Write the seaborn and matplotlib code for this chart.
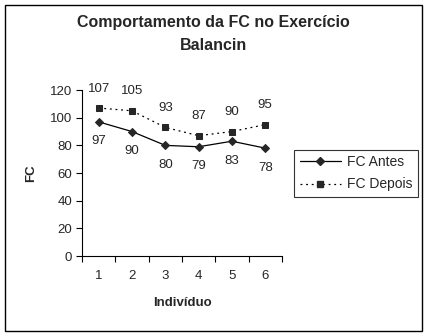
import matplotlib
matplotlib.use("Agg")
import matplotlib.pyplot as plt
from matplotlib.lines import Line2D
import seaborn as sns
import pandas as pd
import numpy as np

individuos = [1, 2, 3, 4, 5, 6]
fc_antes = [97, 90, 80, 79, 83, 78]
fc_depois = [107, 105, 93, 87, 90, 95]
y_ticks = [0, 20, 40, 60, 80, 100, 120]

sns.set_style("white")
plt.rcParams['font.family'] = ['Liberation Sans', 'DejaVu Sans']

df = pd.DataFrame({
    "Indivíduo": individuos * 2,
    "FC": fc_antes + fc_depois,
    "Série": ["FC Antes"] * 6 + ["FC Depois"] * 6,
})

MARK = "#262626"
fig = plt.figure(figsize=(4.28, 3.36), dpi=100)
ax = fig.add_axes([0.1916, 0.238, 0.467, 0.494])

sns.lineplot(data=df, x="Indivíduo", y="FC", hue="Série", style="Série",
             palette={"FC Antes": "black", "FC Depois": "black"},
             dashes={"FC Antes": "", "FC Depois": (1.5, 3)},
             markers={"FC Antes": "D", "FC Depois": "s"},
             linewidth=0.9, ax=ax, legend=False)
for line, ms in zip(ax.lines, [3.6, 4.2]):
    line.set_markerfacecolor(MARK)
    line.set_markeredgecolor(MARK)
    line.set_markersize(ms)

ax.set_xlim(0.5, 6.5)
ax.set_ylim(0, 120)
ax.set_yticks(y_ticks)
ax.set_xticks(individuos)
ax.set_xticks(np.arange(0.5, 7.0, 1.0), minor=True)
ax.tick_params(axis="x", which="major", length=0, pad=10, labelsize=9.5)
ax.tick_params(axis="x", which="minor", length=4, width=0.8, direction="out",
               color="black", bottom=True)
ax.tick_params(axis="y", length=4, width=0.8, direction="out", color="black",
               left=True, labelsize=9.5, pad=3)

for s in ["top", "right"]:
    ax.spines[s].set_visible(False)
for s in ["left", "bottom"]:
    ax.spines[s].set_color("black")
    ax.spines[s].set_linewidth(0.8)

ax.set_xlabel("Indivíduo", fontsize=9.5, fontweight="bold", labelpad=11)
ax.set_ylabel("FC", fontsize=9.5, fontweight="bold", labelpad=9)

for x, v in zip(individuos, fc_antes):
    ax.annotate(str(v), (x, v), xytext=(0, -14), textcoords="offset points",
                ha="center", va="center", fontsize=9.5)
for x, v in zip(individuos, fc_depois):
    ax.annotate(str(v), (x, v), xytext=(0, 14), textcoords="offset points",
                ha="center", va="center", fontsize=9.5)

fig.text(0.498, 0.954, "Comportamento da FC no Exercício\nBalancin",
         ha="center", va="top", fontsize=11.5, fontweight="bold", linespacing=1.65)

handles = [
    Line2D([], [], color="black", lw=0.9, marker="D", ms=3.6, mfc=MARK, mec=MARK),
    Line2D([], [], color="black", lw=0.9, ls=(0, (1.5, 3)), marker="s", ms=4.2,
           mfc=MARK, mec=MARK),
]
leg = fig.legend(handles, ["FC Antes", "FC Depois"], loc="upper left",
                 bbox_to_anchor=(0.687, 0.555), fontsize=10, frameon=True,
                 fancybox=False, edgecolor="black", handlelength=3,
                 borderpad=0.4, labelspacing=0.6, handletextpad=0.4,
                 borderaxespad=0)
leg.get_frame().set_linewidth(0.8)

# outer chart border
fig.patches.append(plt.Rectangle((0.012, 0.015), 0.974, 0.97, transform=fig.transFigure,
                                 fill=False, edgecolor="black", linewidth=1.0))

fig.savefig("out.png", dpi=100)
